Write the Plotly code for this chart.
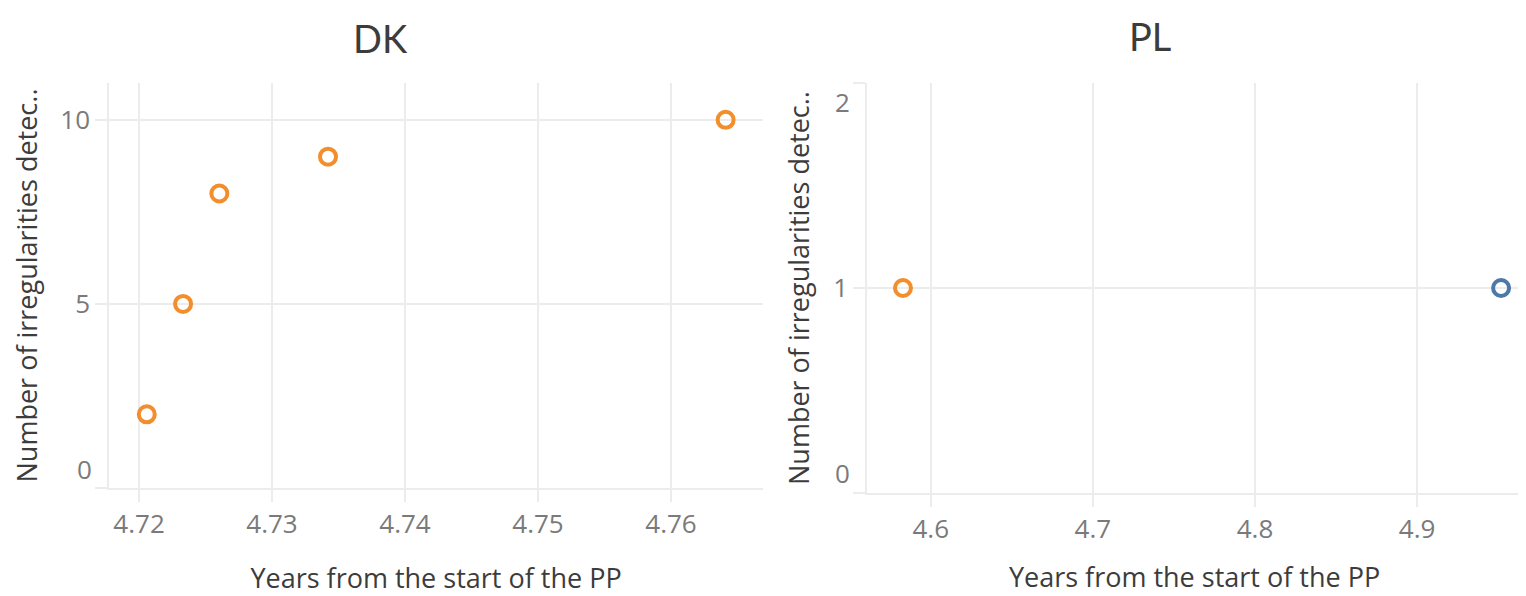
import plotly.graph_objects as go

# ---- data ----
dk_years = [4.72058, 4.72331, 4.72604, 4.73421, 4.76411]
dk_counts = [2, 5, 8, 9, 10]
dk_colors = ["#F28E2B", "#F28E2B", "#F28E2B", "#F28E2B", "#F28E2B"]

pl_years = [4.5829, 4.9518]
pl_counts = [1, 1]
pl_colors = ["#F28E2B", "#4E79A7"]

dk_xticks = [4.72, 4.73, 4.74, 4.75, 4.76]
dk_xtick_text = ["4.72", "4.73", "4.74", "4.75", "4.76"]
pl_xticks = [4.6, 4.7, 4.8, 4.9]
pl_xtick_text = ["4.6", "4.7", "4.8", "4.9"]
dk_yticks = [0, 5, 10]
dk_ytick_text = ["0", "5", "10"]
pl_yticks = [0, 1, 2]
pl_ytick_text = ["0", "1", "2"]

titles = ["DK", "PL"]
x_title = "Years from the start of the PP"
y_title = "Number of irregularities detec.."

W, H = 1526, 596
OFF = 8  # default page body margin
FONT = "'Open Sans', sans-serif"
TFONT = "Lato, sans-serif"
GRID = "#ececec"
TICKC = "#7a7a7a"
TITLEC = "#3c3c3c"
TICKSIZE = 26
AXTSIZE = 27

def px_x(p):
    return (p - OFF) / W

def px_y(p):
    return 1 - (p - OFF) / H

fig = go.Figure()

fig.add_trace(go.Scatter(
    x=dk_years, y=dk_counts, mode="markers", xaxis="x", yaxis="y",
    marker=dict(symbol="circle-open", size=16, color=dk_colors,
                line=dict(width=4, color=dk_colors)),
    showlegend=False, hoverinfo="x+y"))
fig.add_trace(go.Scatter(
    x=pl_years, y=pl_counts, mode="markers", xaxis="x2", yaxis="y2",
    marker=dict(symbol="circle-open", size=16, color=pl_colors,
                line=dict(width=4, color=pl_colors)),
    showlegend=False, hoverinfo="x+y"))

common_x = dict(showgrid=True, gridcolor=GRID, gridwidth=1.5, zeroline=False,
                showline=True, linecolor=GRID, linewidth=1.5,
                ticks="outside", ticklen=12, tickcolor=GRID, tickwidth=1.5,
                tickfont=dict(size=TICKSIZE, color=TICKC, family=FONT),
                automargin=False, fixedrange=True)
common_y = dict(showgrid=True, gridcolor=GRID, gridwidth=1.5, zeroline=False,
                showline=True, linecolor=GRID, linewidth=1.5,
                ticks="outside", ticklen=12, tickcolor=GRID, tickwidth=1.5,
                tickfont=dict(size=TICKSIZE, color=TICKC, family=FONT),
                automargin=False, fixedrange=True)

dk_x_rng = [4.71774, 4.76692]
pl_x_rng = [4.5607, 4.9647]
dk_y_rng = [0, 11.0]
pl_y_rng = [0, 2]

dom_x1 = [px_x(109), px_x(763)]
dom_x2 = [px_x(867), px_x(1522)]
dom_y1 = [px_y(488), px_y(83)]
dom_y2 = [px_y(493), px_y(83)]

title_font = dict(size=AXTSIZE, color=TITLEC, family=FONT)

fig.update_layout(
    width=W, height=H,
    margin=dict(l=0, r=0, t=0, b=0),
    paper_bgcolor="white", plot_bgcolor="white",
    font=dict(family=FONT),
    xaxis=dict(common_x, domain=dom_x1, range=dk_x_rng, tickvals=dk_xticks,
               ticktext=dk_xtick_text, anchor="y",
               title=dict(text=x_title, font=title_font, standoff=29)),
    yaxis=dict(common_y, domain=dom_y1, range=dk_y_rng, tickvals=dk_yticks,
               ticktext=["", dk_ytick_text[1], dk_ytick_text[2]], anchor="x",
               title=dict(text=y_title, font=title_font, standoff=20)),
    xaxis2=dict(common_x, domain=dom_x2, range=pl_x_rng, tickvals=pl_xticks,
                ticktext=pl_xtick_text, anchor="y2",
                title=dict(text=x_title, font=title_font, standoff=23)),
    yaxis2=dict(common_y, domain=dom_y2, range=pl_y_rng, tickvals=pl_yticks,
                ticktext=["", pl_ytick_text[1], ""], anchor="x2",
                title=dict(text=y_title, font=title_font, standoff=16)),
)

# end tick labels nudged inside the pane (as the original tool does)
ann = [
    dict(text=titles[0], x=px_x(380), y=px_y(38), xref="paper", yref="paper",
         showarrow=False, font=dict(size=38, color=TITLEC, family=TFONT),
         xanchor="center", yanchor="middle"),
    dict(text=titles[1], x=px_x(1150), y=px_y(36), xref="paper", yref="paper",
         showarrow=False, font=dict(size=38, color=TITLEC, family=TFONT),
         xanchor="center", yanchor="middle"),
    dict(text=dk_ytick_text[0], x=px_x(94), y=dk_yticks[0], xref="paper", yref="y",
         yshift=19, showarrow=False, xanchor="right", yanchor="middle",
         font=dict(size=TICKSIZE, color=TICKC, family=FONT)),
    dict(text=pl_ytick_text[0], x=px_x(852), y=pl_yticks[0], xref="paper", yref="y2",
         yshift=20, showarrow=False, xanchor="right", yanchor="middle",
         font=dict(size=TICKSIZE, color=TICKC, family=FONT)),
    dict(text=pl_ytick_text[2], x=px_x(852), y=pl_yticks[2], xref="paper", yref="y2",
         yshift=-19, showarrow=False, xanchor="right", yanchor="middle",
         font=dict(size=TICKSIZE, color=TICKC, family=FONT)),
]
fig.update_layout(annotations=ann)

fig.write_html("out.html")
